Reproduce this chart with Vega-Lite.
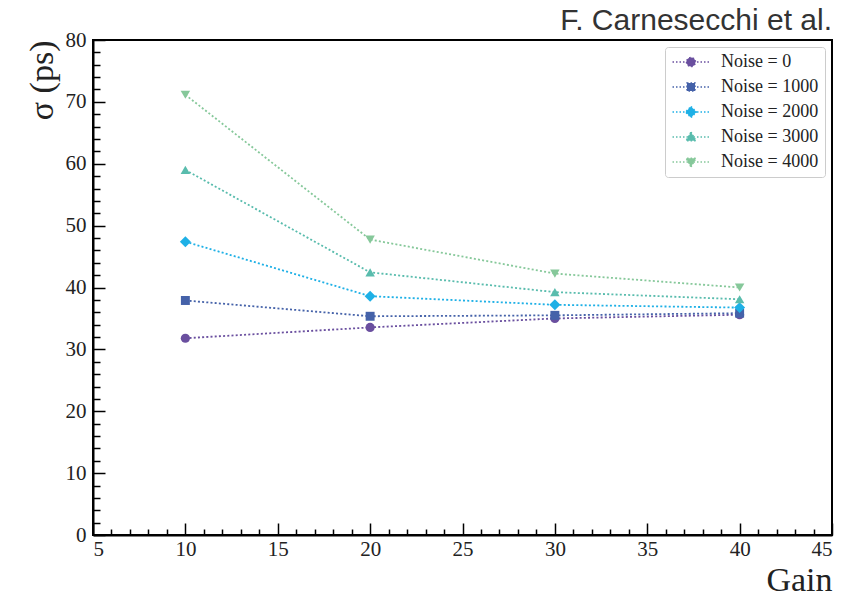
{
  "$schema": "https://vega.github.io/schema/vega-lite/v6.json",
  "width": 739,
  "height": 495,
  "autosize": "none",
  "padding": {"left": 93, "top": 40, "right": 34, "bottom": 61},
  "background": "white",
  "title": {
    "text": "F. Carnesecchi et al.",
    "anchor": "end",
    "frame": "group",
    "orient": "top",
    "font": "Liberation Sans",
    "fontSize": 30,
    "fontWeight": "normal",
    "color": "#333333",
    "offset": -7
  },
  "data": {
    "values": [
      {"series": "Noise = 0", "gain": 10, "sigma": 31.8},
      {"series": "Noise = 0", "gain": 20, "sigma": 33.55},
      {"series": "Noise = 0", "gain": 30, "sigma": 35.0},
      {"series": "Noise = 0", "gain": 40, "sigma": 35.6},
      {"series": "Noise = 1000", "gain": 10, "sigma": 37.9},
      {"series": "Noise = 1000", "gain": 20, "sigma": 35.35},
      {"series": "Noise = 1000", "gain": 30, "sigma": 35.5},
      {"series": "Noise = 1000", "gain": 40, "sigma": 35.85},
      {"series": "Noise = 2000", "gain": 10, "sigma": 47.4},
      {"series": "Noise = 2000", "gain": 20, "sigma": 38.6},
      {"series": "Noise = 2000", "gain": 30, "sigma": 37.2},
      {"series": "Noise = 2000", "gain": 40, "sigma": 36.75},
      {"series": "Noise = 3000", "gain": 10, "sigma": 59.0},
      {"series": "Noise = 3000", "gain": 20, "sigma": 42.45},
      {"series": "Noise = 3000", "gain": 30, "sigma": 39.25},
      {"series": "Noise = 3000", "gain": 40, "sigma": 38.1},
      {"series": "Noise = 4000", "gain": 10, "sigma": 71.15},
      {"series": "Noise = 4000", "gain": 20, "sigma": 47.75},
      {"series": "Noise = 4000", "gain": 30, "sigma": 42.25},
      {"series": "Noise = 4000", "gain": 40, "sigma": 40.0}
    ]
  },
  "encoding": {
    "x": {
      "field": "gain",
      "type": "quantitative",
      "scale": {"domain": [5, 45], "nice": false, "zero": false},
      "axis": {
        "title": "Gain",
        "values": [5,6,7,8,9,10,11,12,13,14,15,16,17,18,19,20,21,22,23,24,25,26,27,28,29,30,31,32,33,34,35,36,37,38,39,40,41,42,43,44,45],
        "labelExpr": "datum.value % 5 === 0 ? datum.label : ''",
        "tickSize": {"condition": {"test": "datum.value % 5 === 0", "value": -12}, "value": -6},
        "labelPadding": 15,
        "titleAnchor": "end",
        "titleAlign": "right",
        "titleBaseline": "alphabetic",
        "titleX": 739,
        "titleY": 55,
        "titleFontSize": 34
      }
    },
    "y": {
      "field": "sigma",
      "type": "quantitative",
      "scale": {"domain": [0, 80], "nice": false},
      "axis": {
        "title": "σ (ps)",
        "values": [0,2,4,6,8,10,12,14,16,18,20,22,24,26,28,30,32,34,36,38,40,42,44,46,48,50,52,54,56,58,60,62,64,66,68,70,72,74,76,78,80],
        "labelExpr": "datum.value % 10 === 0 ? datum.label : ''",
        "tickSize": {"condition": {"test": "datum.value % 10 === 0", "value": -12}, "value": -7},
        "labelPadding": 19,
        "titleAngle": 270,
        "titleAlign": "right",
        "titleBaseline": "middle",
        "titleX": -51,
        "titleY": 0,
        "titleFontSize": 34
      }
    },
    "color": {
      "field": "series",
      "type": "nominal",
      "scale": {
        "domain": ["Noise = 0", "Noise = 1000", "Noise = 2000", "Noise = 3000", "Noise = 4000"],
        "range": ["#6a4f9f", "#4562a9", "#1eb0e6", "#59bcad", "#86c89a"]
      },
      "legend": {
        "orient": "none",
        "legendX": 572,
        "legendY": 7,
        "title": null,
        "symbolType": "circle",
        "symbolSize": 100,
        "symbolOffset": 11,
        "labelOffset": 21,
        "padding": 6,
        "rowPadding": 7,
        "strokeColor": "#cccccc",
        "fillColor": "white",
        "cornerRadius": 3,
        "labelFont": "Liberation Serif",
        "labelFontSize": 18,
        "labelColor": "#222222",
        "encode": {
          "symbols": {
            "update": {
              "shape": {"signal": "['M-3.7,0L3.7,0M-0.9,0A0.9,0.9,0,1,0,0.9,0A0.9,0.9,0,1,0,-0.9,0Z','M-3.7,0L3.7,0M-0.8,-0.8H0.8V0.8H-0.8Z','M-3.7,0L3.7,0M0,-1.1L1.1,0L0,1.1L-1.1,0Z','M-3.7,0L3.7,0M0,-1L1,0.75L-1,0.75Z','M-3.7,0L3.7,0M0,1L1,-0.75L-1,-0.75Z'][indexof(['Noise = 0','Noise = 1000','Noise = 2000','Noise = 3000','Noise = 4000'], datum.value)]"},
              "fill": {"signal": "scale('color', datum.value)"},
              "stroke": {"signal": "scale('color', datum.value)"},
              "strokeDash": {"value": [1.5, 2]},
              "strokeWidth": {"value": 1.5},
              "opacity": {"value": 1},
              "fillOpacity": {"value": 1}
            }
          }
        }
      }
    }
  },
  "layer": [
    {
      "mark": {"type": "line", "strokeDash": [2, 2.2], "strokeWidth": 1.8}
    },
    {
      "transform": [{"filter": {"field": "series", "equal": "Noise = 0"}}],
      "mark": {"type": "point", "shape": "circle", "filled": true, "opacity": 1, "size": 85}
    },
    {
      "transform": [{"filter": {"field": "series", "equal": "Noise = 1000"}}],
      "mark": {"type": "point", "shape": "square", "filled": true, "opacity": 1, "size": 80}
    },
    {
      "transform": [{"filter": {"field": "series", "equal": "Noise = 2000"}}],
      "mark": {"type": "point", "shape": "diamond", "filled": true, "opacity": 1, "size": 120}
    },
    {
      "transform": [{"filter": {"field": "series", "equal": "Noise = 3000"}}],
      "mark": {"type": "point", "shape": "triangle-up", "filled": true, "opacity": 1, "size": 90}
    },
    {
      "transform": [{"filter": {"field": "series", "equal": "Noise = 4000"}}],
      "mark": {"type": "point", "shape": "triangle-down", "filled": true, "opacity": 1, "size": 90}
    }
  ],
  "config": {
    "view": {"stroke": "#000000", "strokeWidth": 2},
    "axis": {
      "grid": false,
      "domainColor": "#000000",
      "domainWidth": 2,
      "tickColor": "#000000",
      "tickWidth": 1.5,
      "labelFont": "Liberation Serif",
      "labelFontSize": 21,
      "labelColor": "#222222",
      "titleFont": "Liberation Serif",
      "titleFontWeight": "normal",
      "titleColor": "#222222"
    }
  }
}
